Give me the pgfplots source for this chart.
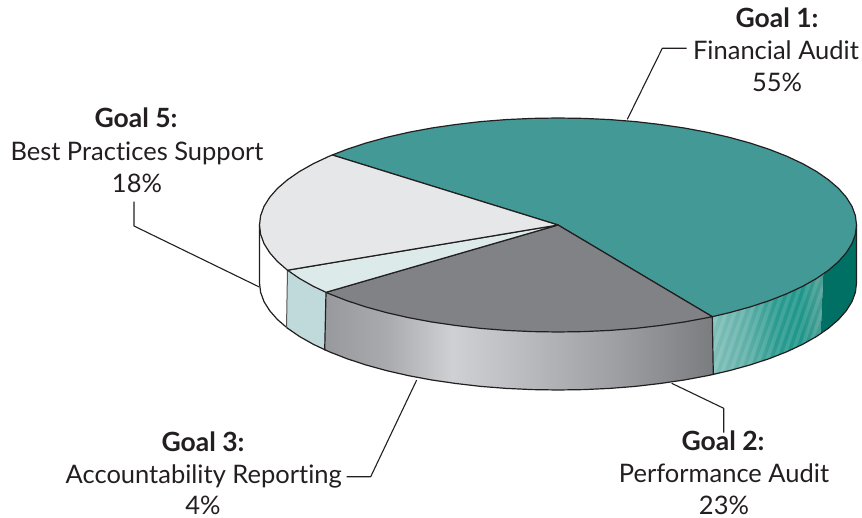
\documentclass[border=0pt]{standalone}
\usepackage{pgfplots}
\pgfplotsset{compat=1.18}
\usepackage{fontspec}
\setmainfont{Lato}[Ligatures=NoCommon]
\definecolor{ink}{HTML}{231F20}
\definecolor{topteal}{HTML}{439996}
\definecolor{topgrey}{HTML}{808285}
\definecolor{toppale}{HTML}{DCEBEA}
\definecolor{toplight}{HTML}{E6E7E8}
\definecolor{sidepale}{HTML}{C0D9DA}
\definecolor{sideteal}{HTML}{006F64}
% Rim shadings: the visible band of a path shading runs from 25bp to 75bp
\pgfdeclarehorizontalshading{greyside}{100bp}{
  rgb(0bp)=(0.596,0.600,0.612);
  rgb(25bp)=(0.596,0.600,0.612);
  rgb(32.9bp)=(0.663,0.667,0.678);
  rgb(41.4bp)=(0.812,0.816,0.827);
  rgb(48.3bp)=(0.753,0.757,0.769);
  rgb(54.3bp)=(0.694,0.698,0.714);
  rgb(62.9bp)=(0.616,0.620,0.631);
  rgb(75bp)=(0.482,0.486,0.498);
  rgb(100bp)=(0.482,0.486,0.498)}
\pgfdeclarehorizontalshading{tealside}{100bp}{
  rgb(0bp)=(0.502,0.749,0.725);
  rgb(25bp)=(0.502,0.749,0.725);
  rgb(40bp)=(0.373,0.690,0.659);
  rgb(53.6bp)=(0.169,0.608,0.565);
  rgb(65bp)=(0.122,0.588,0.541);
  rgb(75bp)=(0.310,0.624,0.588);
  rgb(100bp)=(0.310,0.624,0.588)}
\begin{document}
\begin{tikzpicture}
\begin{axis}[
  scale only axis, width=862pt, height=518pt,
  xmin=0, xmax=862, ymin=0, ymax=518, y dir=reverse,
  hide axis, clip=false,
  every axis plot/.append style={no markers, line join=round}]
\path (axis cs:0,0) rectangle (axis cs:862,518);

% Leader lines
\pgfplotsset{leader/.style={draw=ink, line width=1.1pt, fill=none}}
\addplot[leader] coordinates {(627.3,119.3) (662.3,48.3) (686.7,48.3)};
\addplot[leader] coordinates {(134,201.7) (134,226) (259.3,287)};
\addplot[leader] coordinates {(416.7,380) (370.7,476.7) (346.7,476.7)};
\addplot[leader] coordinates {(671.7,383.3) (723.7,408.3) (723.7,432.7)};

% Rim of Goal 5
\addplot[fill=white, draw=none] coordinates {
 (259.5,225) (260.6,234.3) (264.0,243.6) (269.7,252.7) (277.5,261.6) (287.5,270.2)
 (286.5,328.2) (277.5,319.6) (269.7,310.7) (264.0,301.6) (260.6,292.3) (259.5,283)} -- cycle;

% Rim of Goal 3
\addplot[fill=sidepale, draw=none] coordinates {
 (287.5,270.2) (299.5,278.5) (313.5,286.4) (326,292.3)
 (324.7,350.3) (313.5,344.4) (299.5,336.5) (286.5,328.2)} -- cycle;

% Rim of Goal 1: banded part
\addplot[shade, shading=tealside, draw=none] coordinates {
 (712.3,316.7) (729.2,312.7) (749.9,307.0) (769.1,300.7) (786.7,293.8) (802.5,286.4) (816.5,278.5) (823.3,274.3)
 (820.7,333.5) (816.5,336.5) (802.5,344.4) (786.7,351.8) (769.1,358.7) (749.9,365.0) (729.2,370.7) (713.3,375.0)} -- cycle;

% Slanted sheen bands on the rim
\pgfplotsset{band/.style={fill=white, fill opacity=0.12, draw=none}}
\addplot[band] coordinates {(693,378.4) (697.5,377.5) (728.5,287.5) (724,288.4)} -- cycle;
\addplot[band] coordinates {(702,376.7) (706.5,375.9) (737.5,285.9) (733,286.7)} -- cycle;
\addplot[band] coordinates {(711,375.0) (715.5,373.8) (746.5,283.8) (742,285.0)} -- cycle;
\addplot[band] coordinates {(720,372.8) (724.5,371.8) (755.5,281.8) (751,282.8)} -- cycle;
\addplot[band] coordinates {(729,370.7) (733.5,369.5) (764.5,279.5) (760,280.7)} -- cycle;
\addplot[band] coordinates {(738,368.3) (742.5,367.0) (773.5,277.0) (769,278.3)} -- cycle;
\addplot[band] coordinates {(747,365.8) (751.5,364.5) (782.5,274.5) (778,275.8)} -- cycle;
\addplot[band] coordinates {(756,363.0) (760.5,361.5) (791.5,271.5) (787,273.0)} -- cycle;
\addplot[band] coordinates {(765,360.0) (769.5,358.6) (800.5,268.6) (796,270.0)} -- cycle;
\addplot[band] coordinates {(774,356.8) (778.5,355.0) (809.5,265.0) (805,266.8)} -- cycle;
\addplot[band] coordinates {(783,353.2) (787.5,351.4) (818.5,261.4) (814,263.2)} -- cycle;
\addplot[band] coordinates {(792,349.3) (796.5,347.2) (827.5,257.2) (823,259.3)} -- cycle;
\addplot[band] coordinates {(801,345.1) (805.5,342.7) (836.5,252.7) (832,255.1)} -- cycle;
\addplot[band] coordinates {(810,340.2) (814.5,337.6) (845.5,247.6) (841,250.2)} -- cycle;
\addplot[band] coordinates {(819,334.8) (823.5,331.7) (854.5,241.7) (850,244.8)} -- cycle;

% Rim of Goal 1: solid part
\addplot[fill=sideteal, draw=none] coordinates {
 (856.5,225) (855.4,234.3) (852.0,243.6) (846.3,252.7) (838.5,261.6) (828.5,270.2) (823.3,274.3)
 (820.7,333.5) (828.5,328.2) (838.5,319.6) (846.3,310.7) (852.0,301.6) (855.4,292.3) (856.5,283)} -- cycle;

% Rim of Goal 2
\addplot[shade, shading=greyside, draw=none] coordinates {
 (326,292.3) (329.3,293.8) (346.9,300.7) (366.1,307.0) (386.8,312.7) (408.7,317.7) (431.8,322.0) (455.9,325.5)
 (480.7,328.4) (506.2,330.4) (532.0,331.6) (558,332) (584.0,331.6) (609.8,330.4) (635.3,328.4) (660.1,325.5)
 (684.2,322.0) (707.3,317.7) (712.3,316.7)
 (713.3,375.0) (707.3,375.7) (684.2,380.0) (660.1,383.5) (635.3,386.4) (609.8,388.4) (584.0,389.6) (558,390)
 (532.0,389.6) (506.2,388.4) (480.7,386.4) (455.9,383.5) (431.8,380.0) (408.7,375.7) (386.8,370.7) (366.1,365.0)
 (346.9,358.7) (329.3,351.8) (324.7,350.3)} -- cycle;

% Lower outline and upright edges of the rim
\pgfplotsset{edge/.style={draw=ink, line width=1.2pt, fill=none}}
\addplot[edge] coordinates {
 (856.5,225) (856.5,283) (855.4,292.3) (852.0,301.6) (846.3,310.7) (838.5,319.6) (828.5,328.2) (816.5,336.5)
 (802.5,344.4) (786.7,351.8) (769.1,358.7) (749.9,365.0) (729.2,370.7) (707.3,375.7) (684.2,380.0) (660.1,383.5)
 (635.3,386.4) (609.8,388.4) (584.0,389.6) (558,390) (532.0,389.6) (506.2,388.4) (480.7,386.4) (455.9,383.5)
 (431.8,380.0) (408.7,375.7) (386.8,370.7) (366.1,365.0) (346.9,358.7) (329.3,351.8) (313.5,344.4) (299.5,336.5)
 (287.5,328.2) (277.5,319.6) (269.7,310.7) (264.0,301.6) (260.6,292.3) (259.5,283) (259.5,225)};
\addplot[edge] coordinates {(712.3,316.7) (713.3,375.0)};
\addplot[edge] coordinates {(326,292.3) (324.7,350.3)};
\addplot[draw=ink!75, line width=1pt] coordinates {(287.5,270.2) (286.5,328.2)};

% Top face of the four slices
\pgfplotsset{face/.style={draw=ink, line width=1.2pt}}
\addplot[face, fill=topteal] coordinates {
 (558,225) (332.3,155) (346.9,149.3) (366.1,143.0) (386.8,137.3) (408.7,132.3) (431.8,128.0) (455.9,124.5)
 (480.7,121.6) (506.2,119.6) (532.0,118.4) (558,118) (584.0,118.4) (609.8,119.6) (635.3,121.6) (660.1,124.5)
 (684.2,128.0) (707.3,132.3) (729.2,137.3) (749.9,143.0) (769.1,149.3) (786.7,156.2) (802.5,163.6) (816.5,171.5)
 (828.5,179.8) (838.5,188.4) (846.3,197.3) (852.0,206.4) (855.4,215.7) (856.5,225) (855.4,234.3) (852.0,243.6)
 (846.3,252.7) (838.5,261.6) (828.5,270.2) (816.5,278.5) (802.5,286.4) (786.7,293.8) (769.1,300.7) (749.9,307.0)
 (729.2,312.7) (712.3,316.7)} -- cycle;
\addplot[face, fill=topgrey] coordinates {
 (558,225) (712.3,316.7) (707.3,317.7) (684.2,322.0) (660.1,325.5) (635.3,328.4) (609.8,330.4) (584.0,331.6)
 (558,332) (532.0,331.6) (506.2,330.4) (480.7,328.4) (455.9,325.5) (431.8,322.0) (408.7,317.7) (386.8,312.7)
 (366.1,307.0) (346.9,300.7) (329.3,293.8) (326,292.3)} -- cycle;
\addplot[face, fill=toppale] coordinates {
 (558,225) (326,292.3) (313.5,286.4) (299.5,278.5) (287.5,270.2)} -- cycle;
\addplot[face, fill=toplight] coordinates {
 (558,225) (287.5,270.2) (277.5,261.6) (269.7,252.7) (264.0,243.6) (260.6,234.3) (259.5,225) (260.6,215.7)
 (264.0,206.4) (269.7,197.3) (277.5,188.4) (287.5,179.8) (299.5,171.5) (313.5,163.6) (329.3,156.2) (332.3,155)} -- cycle;

% Slice captions
\tikzset{
  caption text/.style={anchor=base, inner sep=0pt, text=ink, font=\fontsize{25.5}{30}\selectfont},
  caption head/.style={anchor=base, inner sep=0pt, text=ink, font=\fontsize{26.5}{30}\selectfont\bfseries}}
\node[caption head] at (axis cs:777,28) {Goal 1:};
\node[caption text] at (axis cs:776,60) {Financial Audit};
\node[caption text] at (axis cs:777,92) {55\%};
\node[caption head] at (axis cs:136,128) {Goal 5:};
\node[caption text] at (axis cs:137,161) {Best Practices Support};
\node[caption text] at (axis cs:137,193) {18\%};
\node[caption head] at (axis cs:203,451) {Goal 3:};
\node[caption text] at (axis cs:203.7,483) {Accountability Reporting};
\node[caption text] at (axis cs:203,514) {4\%};
\node[caption head] at (axis cs:723,450) {Goal 2:};
\node[caption text] at (axis cs:724,482) {Performance Audit};
\node[caption text] at (axis cs:724,514) {23\%};
\end{axis}
\end{tikzpicture}
\end{document}
